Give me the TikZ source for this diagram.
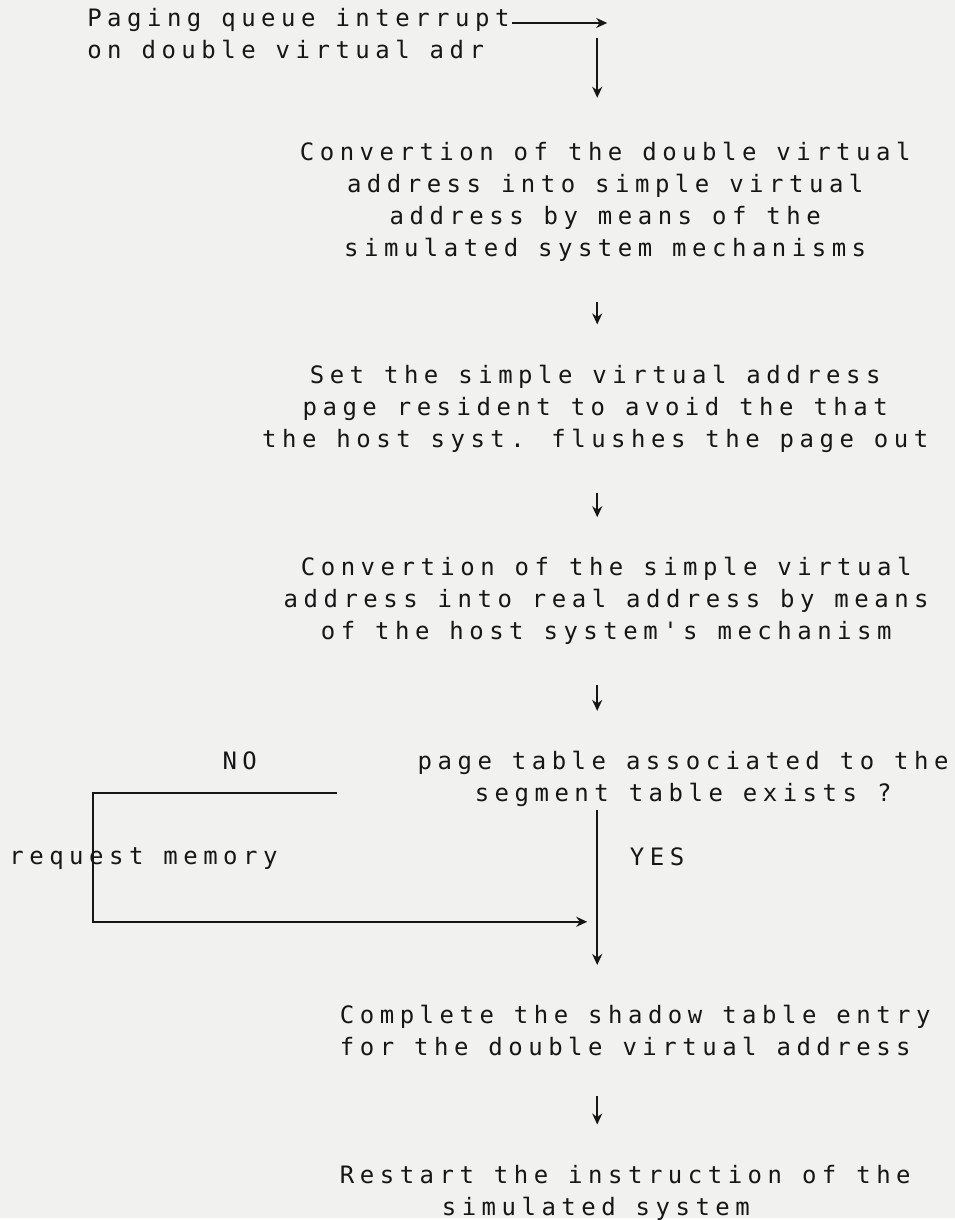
\documentclass[tikz,border=0pt]{standalone}
\usepackage{fontspec}
\usepackage{xcolor}
\usetikzlibrary{arrows.meta}
\newfontfamily\typewriter[LetterSpace=23]{DejaVu Sans Mono}
\definecolor{Paper}{HTML}{F1F2EF}
\definecolor{Ink}{HTML}{161616}

\begin{document}
\begin{tikzpicture}[x=0.5pt,y=-0.5pt]
      \tikzstyle{block}=[inner sep=0pt, align=center, text=Ink,
        font=\typewriter\fontsize{12}{16}\selectfont]
      \tikzstyle{flow}=[-{Stealth[length=5.5pt,width=5pt]}, line width=1.1pt, color=Ink]
      \tikzstyle{drop}=[flow, shorten <=20pt, shorten >=20pt]
      \fill[Paper] (0,0) rectangle (956,1220);
      \coordinate (spine) at (598,0);
      % chain of steps
      \node[block, anchor=west, align=left] (page) at (87,34) {Paging queue interrupt\\on double virtual adr};
      \node[block] (conv1) at (606,202) {Convertion of the double virtual\\address into simple virtual\\address by means of the\\simulated system mechanisms};
      \node[block] (setres) at (596,409) {Set the simple virtual address\\page resident to avoid the that\\the host syst. flushes the page out};
      \node[block] (conv2) at (607,602) {Convertion of the simple virtual\\address into real address by means\\of the host system's mechanism};
      \node[block] (exists) at (684,780) {page table associated to the\\segment table exists ?};
      \node[block, anchor=west, align=left] (complete) at (340,1032) {Complete the shadow table entry\\for the double virtual address};
      \node[block, anchor=west, align=left] (restart) at (340,1194) {Restart the instruction of the\\\hspace*{51pt}simulated system};
      % branch labels
      \node[block] (no) at (240,762) {NO};
      \node[block] (yes) at (658,858) {YES};
      \node[block, anchor=west] (memory) at (9,860) {request memory};
      % connectors
      \coordinate (turn) at (608,23);
      \coordinate (drop0) at (598,38);
      \coordinate (nofork) at (337,794);
      \coordinate (nobend) at (93,923);
      \coordinate (join) at (598,923);
      \draw[flow, shorten <=1pt] (page.east |- turn) -- (turn);
      \draw[flow, shorten >=22pt] (drop0) -- (conv1.north -| spine);
      \draw[drop] (conv1.south -| spine) -- (setres.north -| spine);
      \draw[drop] (setres.south -| spine) -- (conv2.north -| spine);
      \draw[drop] (conv2.south -| spine) -- (exists.north -| spine);
      \draw[flow, shorten <=1.5pt, shorten >=20pt] (exists.south -| spine) -- (complete.north -| spine);
      \draw[flow, shorten >=5pt] (nofork) -| (nobend) -- (join);
      \draw[drop] (complete.south -| spine) -- (restart.north -| spine);
    \end{tikzpicture}
\end{document}
